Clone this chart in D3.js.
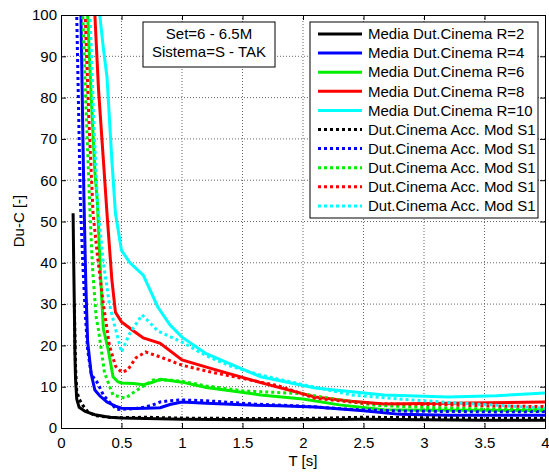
<!DOCTYPE html>
<html>
<head>
<meta charset="utf-8">
<script src="https://cdn.jsdelivr.net/npm/d3@7"></script>
<style>
  body { margin: 0; background: #fff; }
  text { font-family: "Liberation Sans", Arial, sans-serif; }
</style>
</head>
<body>
<div id="chart"></div>
<script>
// curves: [T, Du-C]
var mediaR2 = [[0.1,52],[0.105,40],[0.11,30],[0.115,18],[0.12,12],[0.13,7],[0.15,5],[0.2,4],[0.28,3.2],[0.4,2.6],[0.5,2.4],[0.7,2.3],[1,2.1],[1.5,2.0],[2,2.0],[2.5,2.1],[3,2.0],[3.5,1.9],[4,1.9]];
var mediaR4 = [[0.15,130],[0.165,100],[0.18,72],[0.19,55],[0.205,35],[0.22,21],[0.25,13],[0.28,9.2],[0.32,7.8],[0.38,6.3],[0.45,5.3],[0.5,4.8],[0.6,4.7],[0.7,4.8],[0.82,4.9],[0.9,5.7],[1.0,6.3],[1.2,6.0],[1.5,5.6],[1.8,5.4],[2.1,5.1],[2.5,4.2],[2.8,3.3],[3.2,3.1],[4,3.1]];
var mediaR6 = [[0.21,120],[0.22,100],[0.25,80],[0.28,62],[0.3,55],[0.33,35],[0.35,24],[0.39,19],[0.43,12.4],[0.47,11.2],[0.5,10.9],[0.6,10.8],[0.68,10.5],[0.75,11],[0.82,11.8],[0.9,11.5],[1.0,11.1],[1.2,9.8],[1.4,9],[1.65,8],[2.0,7],[2.3,5.6],[2.67,4.4],[3,4.3],[3.5,4.3],[4,4.2]];
var mediaR8 = [[0.26,115],[0.28,100],[0.31,82],[0.35,65],[0.38,52],[0.42,36],[0.45,28],[0.5,25.7],[0.6,23.5],[0.68,21.8],[0.82,20.5],[1.0,16.5],[1.23,14.5],[1.65,11],[2.1,7.5],[2.4,6.5],[2.67,5.8],[3.2,6],[4,6.3]];
var mediaR10 = [[0.3,115],[0.32,100],[0.35,92],[0.38,85],[0.42,65],[0.45,52],[0.5,43],[0.57,40],[0.68,37],[0.8,29.3],[0.9,25],[1.0,22],[1.2,18],[1.65,12.4],[2.1,9.7],[2.67,8],[3.2,7.5],[3.6,7.8],[4,8.5]];
var accR2 = [[0.11,30],[0.12,15],[0.13,9],[0.15,7],[0.18,5.5],[0.22,4],[0.28,3],[0.4,2.6],[0.5,2.5],[0.7,2.6],[1,2.4],[1.5,2.3],[2,2.3],[2.5,2.6],[3,2.5],[3.5,2.3],[4,2.3]];
var accR4 = [[0.12,130],[0.13,100],[0.14,85],[0.15,70],[0.16,55],[0.18,40],[0.2,28],[0.22,19],[0.25,13],[0.3,11],[0.35,8],[0.4,6.3],[0.46,4.5],[0.55,4.6],[0.65,4.8],[0.75,5.5],[0.82,6.3],[0.9,6.6],[1.0,6.8],[1.2,6.6],[1.4,6.2],[1.6,5.8],[2.0,5.3],[2.4,4.5],[2.8,4.1],[3.2,4.0],[3.6,3.9],[4,4.0]];
var accR6 = [[0.17,120],[0.18,100],[0.21,75],[0.24,52],[0.26,39],[0.29,27],[0.31,23.7],[0.36,13.3],[0.43,8],[0.53,7.2],[0.63,9.2],[0.76,11.6],[0.9,11.6],[1.0,11.3],[1.2,10.2],[1.5,9.0],[2,8.3],[2.3,6.8],[2.6,5.5],[3,5.0],[3.5,4.6],[4,4.5]];
var accR8 = [[0.19,115],[0.2,100],[0.23,75],[0.265,52],[0.3,42],[0.35,30],[0.4,20],[0.45,15],[0.5,13.5],[0.55,14],[0.62,17],[0.7,18.4],[0.82,17.2],[1.0,15.2],[1.23,13.6],[1.5,12],[1.8,10.2],[2.1,7.2],[2.5,6],[2.8,5.8],[3.2,5.6],[3.6,5.3],[4,5.2]];
var accR10 = [[0.23,115],[0.24,100],[0.27,75],[0.3,55],[0.35,40],[0.4,30],[0.45,24],[0.5,18.4],[0.57,23],[0.67,27.4],[0.8,23.5],[1.0,20.8],[1.2,17.5],[1.4,15],[1.65,12.8],[2.0,10.5],[2.4,8.0],[2.8,7.0],[3.2,6.2],[3.6,5.5],[4,4.8]];

var seriesNames = ["Media Dut.Cinema R=2", "Media Dut.Cinema R=4", "Media Dut.Cinema R=6",
  "Media Dut.Cinema R=8", "Media Dut.Cinema R=10",
  "Dut.Cinema Acc. Mod S1", "Dut.Cinema Acc. Mod S1", "Dut.Cinema Acc. Mod S1",
  "Dut.Cinema Acc. Mod S1", "Dut.Cinema Acc. Mod S1"];
var seriesData = [mediaR2, mediaR4, mediaR6, mediaR8, mediaR10, accR2, accR4, accR6, accR8, accR10];
var colors = ["#000000", "#0000ff", "#00ee00", "#ff0000", "#00ffff"];

var xTicks = [0, 0.5, 1, 1.5, 2, 2.5, 3, 3.5, 4];
var yTicks = [0, 10, 20, 30, 40, 50, 60, 70, 80, 90, 100];
var infoLines = ["Set=6 - 6.5M", "Sistema=S - TAK"];

var width = 549, height = 473;
var margin = {top: 15, right: 4, bottom: 45, left: 61};

var svg = d3.select("#chart").append("svg")
    .attr("width", width)
    .attr("height", height);

svg.append("rect").attr("width", width).attr("height", height).attr("fill", "#fff");

var w = width - margin.left - margin.right;
var h = height - margin.top - margin.bottom;

var g = svg.append("g").attr("transform", "translate(" + margin.left + "," + margin.top + ")");

var x = d3.scaleLinear().domain([0, 4]).range([0, w]);
var y = d3.scaleLinear().domain([0, 100]).range([h, 0]);

// grid
g.selectAll(".gx").data(xTicks.slice(1, -1)).enter().append("line")
    .attr("x1", d => x(d)).attr("x2", d => x(d))
    .attr("y1", 0).attr("y2", h)
    .attr("stroke", "#666").attr("stroke-dasharray", "1,2");
g.selectAll(".gy").data(yTicks.slice(1, -1)).enter().append("line")
    .attr("y1", d => y(d)).attr("y2", d => y(d))
    .attr("x1", 0).attr("x2", w)
    .attr("stroke", "#666").attr("stroke-dasharray", "1,2");

g.append("clipPath").attr("id", "clip")
  .append("rect").attr("width", w).attr("height", h);

var line = d3.line().x(d => x(d[0])).y(d => y(d[1]));

var curves = g.append("g").attr("clip-path", "url(#clip)");
seriesData.forEach(function(d, i) {
  curves.append("path")
      .attr("d", line(d))
      .attr("fill", "none")
      .attr("stroke", colors[i % 5])
      .attr("stroke-width", 3)
      .attr("stroke-dasharray", i < 5 ? null : "3,3");
});

// axes, MATLAB style: ticks inside, box all round
var fmt = d3.format("~g");
g.append("g")
    .attr("transform", "translate(0," + h + ")")
    .call(d3.axisBottom(x).tickValues(xTicks).tickSize(-5).tickPadding(9).tickFormat(fmt));
g.append("g")
    .call(d3.axisLeft(y).tickValues(yTicks).tickSize(-5).tickPadding(4));
g.append("g")
    .call(d3.axisTop(x).tickValues(xTicks).tickSize(-5).tickFormat(""));
g.append("g")
    .attr("transform", "translate(" + w + ",0)")
    .call(d3.axisRight(y).tickValues(yTicks).tickSize(-5).tickFormat(""));

g.selectAll(".domain").attr("stroke", "#000");
g.selectAll(".tick line").attr("stroke", "#000");
g.selectAll(".tick text").style("font-size", "15px").attr("fill", "#000")
  .style("font-family", "Liberation Sans, Arial, sans-serif");

svg.append("text")
    .attr("x", margin.left + x(2))
    .attr("y", 466)
    .attr("text-anchor", "middle")
    .style("font-size", "15px")
    .text("T [s]");

svg.append("text")
    .attr("transform", "translate(19,221) rotate(-90)")
    .attr("text-anchor", "middle")
    .attr("dy", "0.35em")
    .style("font-size", "15px")
    .text("Du-C [-]");

// info box
var info = svg.append("g");
info.append("rect")
    .attr("x", 143).attr("y", 22).attr("width", 132).attr("height", 45)
    .attr("fill", "#fff").attr("stroke", "#000");
info.selectAll("text").data(infoLines).enter().append("text")
    .attr("x", 209)
    .attr("y", (d, i) => 34 + i * 18)
    .attr("dy", "0.35em")
    .attr("text-anchor", "middle")
    .style("font-size", "15px")
    .text(d => d);

// legend
var legend = svg.append("g");
legend.append("rect")
    .attr("x", 310).attr("y", 22).attr("width", 228).attr("height", 196)
    .attr("fill", "#fff").attr("stroke", "#000");
var rows = legend.selectAll(".row").data(seriesNames).enter().append("g")
    .attr("transform", (d, i) => "translate(0," + (34 + i * 19.1) + ")");
rows.append("line")
    .attr("x1", 318).attr("x2", 362)
    .attr("stroke", (d, i) => colors[i % 5])
    .attr("stroke-width", 3)
    .attr("stroke-dasharray", (d, i) => i < 5 ? null : "3,3");
rows.append("text")
    .attr("x", 368)
    .attr("dy", "0.35em")
    .style("font-size", "15px")
    .text(d => d);
</script>
</body>
</html>
